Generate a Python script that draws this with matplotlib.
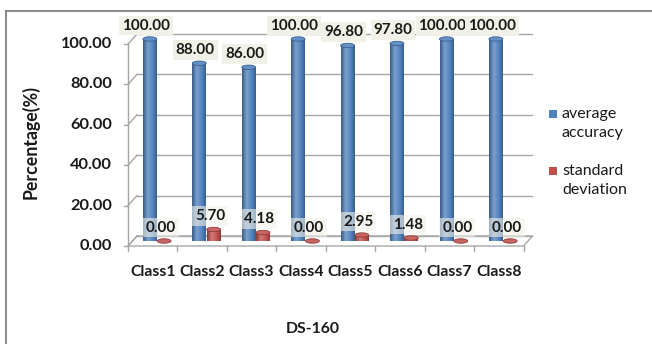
import matplotlib

matplotlib.use("Agg")  # headless
import matplotlib.pyplot as plt  # noqa: E402
import numpy as np  # noqa: E402
from matplotlib.colors import to_rgb  # noqa: E402
from matplotlib.patches import Ellipse, Polygon, Rectangle  # noqa: E402

plt.rcParams["font.family"] = ["Lato", "DejaVu Sans"]

# data
classes = ["Class1", "Class2", "Class3", "Class4", "Class5", "Class6", "Class7", "Class8"]
avg_accuracy = [100.00, 88.00, 86.00, 100.00, 96.80, 97.80, 100.00, 100.00]
std_dev = [0.00, 5.70, 4.18, 0.00, 2.95, 1.48, 0.00, 0.00]
y_ticks = [0, 20, 40, 60, 80, 100]
series_names = ["average\naccuracy", "standard\ndeviation"]

# style
_C_BLUE = "#4f81bd"
_C_RED = "#c0504d"
_C_GRID = "#a6a6a6"
_C_TEXT = "#1a1a1a"
_C_LABEL_BG = "#f2f1e8"
W, H = 652, 344
DX, DY = 0.091, 2.48   # half-depth of the pseudo-3D box (x in categories, y in %)
BAR_W = 0.28
CAP_H = 2.2            # height of the cylinder end ellipses, in %


def _shade(color, n=48):
    """Horizontal gradient across a cylinder: dark edge, highlight, dark edge."""
    base = np.array(to_rgb(color))
    light = np.clip(base + (1 - base) * 0.25, 0, 1)
    dark = base * 0.72
    t = np.linspace(0, 1, n)
    stops = [0.0, 0.35, 0.75, 1.0]
    cols = [dark, light, base, dark]
    rgb = np.stack([np.interp(t, stops, [c[k] for c in cols]) for k in range(3)], axis=-1)
    return rgb[None, :, :]


def _cylinder(ax, x, value, color, z=3):
    grad = _shade(color)
    top = np.array(to_rgb(color))
    x0, x1 = x - BAR_W / 2, x + BAR_W / 2
    bottom = Ellipse((x, 0), BAR_W, CAP_H, transform=ax.transData)
    im = ax.imshow(grad, extent=(x0, x1, -CAP_H / 2, 0), aspect="auto", zorder=z,
                   interpolation="bilinear")
    im.set_clip_path(bottom)
    if value > 0:
        body = Rectangle((x0, 0), BAR_W, value, transform=ax.transData)
        im = ax.imshow(grad, extent=(x0, x1, 0, value), aspect="auto", zorder=z,
                       interpolation="bilinear")
        im.set_clip_path(body)
    ax.add_patch(Ellipse((x, value), BAR_W, CAP_H, facecolor=np.clip(top + (1 - top) * 0.12, 0, 1),
                         edgecolor=top * 0.75, lw=0.6, zorder=z + 0.5, clip_on=False))


fig = plt.figure(figsize=(W / 100, H / 100), dpi=100)
ax = fig.add_axes([132.5 / W, 1 - 241 / H, 395.5 / W, 202 / H])
n = len(classes)

# back wall gridlines and left-wall diagonals
for v in y_ticks:
    ax.plot([-0.5 + DX, n - 0.5 + DX], [v + DY, v + DY], color=_C_GRID, lw=1.0, zorder=1, clip_on=False)
    ax.plot([-0.5 - DX, -0.5 + DX], [v - DY, v + DY], color=_C_GRID, lw=1.0, zorder=1, clip_on=False)
    ax.plot([-0.5 - DX - 0.08, -0.5 - DX], [v - DY, v - DY], color=_C_GRID, lw=1.0, zorder=1, clip_on=False)
    ax.text(-0.5 - DX - 0.32, v - DY, f"{v:.2f}", ha="right", va="center",
            fontsize=11.8, fontweight="bold", color=_C_TEXT)
ax.plot([-0.5 - DX, -0.5 - DX], [-DY, y_ticks[-1] - DY], color=_C_GRID, lw=1.0, zorder=1, clip_on=False)

# floor
floor = Polygon([(-0.5 - DX, -DY), (n - 0.5 - DX, -DY), (n - 0.5 + DX, DY), (-0.5 + DX, DY)],
                closed=True, facecolor="none", edgecolor=_C_GRID, lw=1.0, zorder=1, clip_on=False)
ax.add_patch(floor)
for k in range(n + 1):
    ax.plot([-0.5 - DX + k] * 2, [-DY, -DY - 2.6], color=_C_GRID, lw=1.0, zorder=1, clip_on=False)
for i, name in enumerate(classes):
    ax.text(i - DX, -15.5, name, ha="center", va="center", fontsize=11.3, fontweight="bold", color=_C_TEXT)

# cylinders + data labels
for i, (acc, sd) in enumerate(zip(avg_accuracy, std_dev)):
    xb, xr = i - 0.15, i + 0.14
    _cylinder(ax, xb, acc, _C_BLUE, z=3)
    _cylinder(ax, xr, sd, _C_RED, z=3)
    ax.text(xb - 0.08, acc + 6.6, f"{acc:.2f}", ha="center", va="center", fontsize=11,
            fontweight="bold", color=_C_TEXT, zorder=6,
            bbox=dict(boxstyle="square,pad=0.18", fc=_C_LABEL_BG, ec="none"))
    ax.text(xr - 0.07, sd + 6.6, f"{sd:.2f}", ha="center", va="center", fontsize=11,
            fontweight="bold", color=_C_TEXT, zorder=6,
            bbox=dict(boxstyle="square,pad=0.18", fc=_C_LABEL_BG, ec="none", alpha=0.6))

ax.set_xlim(-0.5, n - 0.5)
ax.set_ylim(0, 100)
ax.axis("off")

# axis titles
fig.text(31 / W, 1 - 142 / H, "Percentage(%)", rotation=90, ha="center", va="center",
         fontsize=12.8, fontweight="bold", color=_C_TEXT)
fig.text(313 / W, 1 - 329 / H, "DS-160", ha="center", va="center",
         fontsize=11.3, fontweight="bold", color=_C_TEXT)

# legend
for (name, color), ytop in zip(zip(series_names, [_C_BLUE, _C_RED]), [114, 171]):
    fig.add_artist(Rectangle((549 / W, 1 - (ytop + 4) / H), 8 / W, 8 / H,
                             transform=fig.transFigure, facecolor=color, edgecolor="none"))
    for j, line in enumerate(name.split("\n")):
        fig.text(562 / W, 1 - (ytop + 19.5 * j) / H, line, ha="left", va="center",
                 fontsize=11.5, color=_C_TEXT)

# chart-area border (left and top edges)
fig.add_artist(plt.Line2D([6 / W, 6 / W], [0, 1 - 11 / H], transform=fig.transFigure,
                          color="#8c8c8c", lw=1.5))
fig.add_artist(plt.Line2D([6 / W, 1], [1 - 11 / H, 1 - 11 / H], transform=fig.transFigure,
                          color="#8c8c8c", lw=1.5))

fig.savefig("out.png", dpi=100)
plt.close(fig)
